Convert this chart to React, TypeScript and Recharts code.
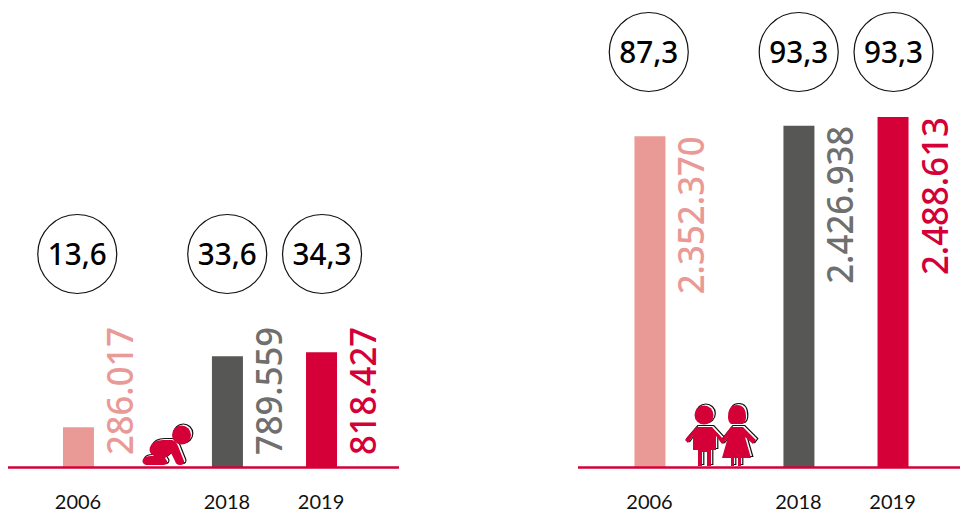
import React from "react";
import { BarChart, Bar, XAxis, YAxis, Cell, LabelList } from "recharts";

const years = ["2006", "2018", "2019"];
const yearSlots = [0, 19, 31];
const babyValues = [286017, 789559, 818427];
const babyShares = ["13,6", "33,6", "34,3"];
const childValues = [2352370, 2426938, 2488613];
const childShares = ["87,3", "93,3", "93,3"];
const barColors = ["#ea9a96", "#575756", "#d40037"];
const labelColors = ["#ea9a96", "#6f6f6e", "#d40037"];
const circleNudge = [-1.2, -0.2, 0.5];
const formatValue = (v: number) => String(v).replace(/\B(?=(\d{3})+$)/g, ".");
const FONT = "'Noto Sans', sans-serif";
const RED = "#d40037";

type PanelProps = {
  left: number; width: number; marginLeft: number; domain: [number, number];
  values: number[]; shares: string[]; circleY: number; labelFromTop: boolean; labelLen: number;
};

function Panel({ left, width, marginLeft, domain, values, shares, circleY, labelFromTop, labelLen }: PanelProps) {
  const data = years.map((year, i) => ({ year, slot: yearSlots[i], value: values[i], share: shares[i] }));
  return (
    <div style={{ position: "absolute", left, top: 0 }}>
      <BarChart width={width} height={514} data={data} margin={{ top: 0, right: 0, bottom: 0, left: marginLeft }} barSize={31}>
        <XAxis
          dataKey="slot" type="number" domain={domain} ticks={yearSlots} interval={0} allowDataOverflow
          tickFormatter={(s: number) => years[yearSlots.indexOf(s)]}
          axisLine={{ stroke: RED, strokeWidth: 2.5 }} tickLine={false} height={46.5} tickMargin={21}
          tick={{ fontFamily: "Lato, sans-serif", fontSize: 20, fill: "#111" }}
        />
        <YAxis hide width={0} domain={[0, 3320000]} />
        <Bar dataKey="value" isAnimationActive={false}>
          {data.map((d, i) => <Cell key={d.year} fill={barColors[i]} />)}
          <LabelList dataKey="value" content={(p: any) => {
            const tx = p.x + p.width + 39;
            const ty = labelFromTop ? p.y + labelLen : 455;
            return (
              <text transform={`translate(${tx},${ty}) rotate(-90)`} fill={labelColors[p.index]}
                fontFamily={FONT} fontWeight={500} fontSize={37} textLength={labelLen} lengthAdjust="spacingAndGlyphs">
                {formatValue(p.value)}
              </text>
            );
          }} />
          <LabelList dataKey="share" content={(p: any) => {
            const cx = p.x + p.width / 2 + circleNudge[p.index];
            return (
              <g>
                <circle cx={cx} cy={circleY} r={39.5} fill="#fff" stroke="#111" strokeWidth={1.2} />
                <text x={cx} y={circleY + 11} textAnchor="middle" fontFamily={FONT} fontWeight={500} fontSize={31} textLength={59} lengthAdjust="spacingAndGlyphs" fill="#000">{p.value}</text>
              </g>
            );
          }} />
        </Bar>
      </BarChart>
    </div>
  );
}

const babyPaths = (
  <>
    <circle cx="181.5" cy="435" r="9.5" />
    <path d="M150 447 Q153 440 163 440 L172 440 Q176 441 178 446 L184 461 Q185 465 180 465 Q176 465 175 461 L171 453 L165 458 L167 461 Q168 465 163 465 L146 465 Q141 463 143 459 Q145 456 151 456 L154 456 Q148 453 150 447 Z" />
  </>
);

const kidsPaths = (
  <>
    <circle cx="704" cy="415" r="9.5" />
    <path d="M696 427 L712 427 L724 440 L722 444 L716 436 L716 450 L711 450 L711 466 L707 466 L707 452 L702 452 L702 466 L698 466 L698 450 L693 450 L693 436 L688 443 L685 440 Z" />
    <path d="M728 417 Q728 405 737 405 Q746 405 746 417 Q746 422 743 424 L731 424 Q728 422 728 417 Z" />
    <path d="M731 427 L743 427 L756 440 L753 444 L745 437 L751 458 L741 458 L741 466 L738 466 L738 458 L734 458 L734 466 L731 466 L731 458 L722 458 L728 437 L723 444 L720 441 Z" />
  </>
);

function Icon({ children }: { children: React.ReactNode }) {
  return (
    <>
      <g transform="translate(1.8,-1.5)" fill="#fff" stroke="#111" strokeWidth={1.2}>{children}</g>
      <g fill={RED}>{children}</g>
    </>
  );
}

export default function App() {
  return (
    <div style={{ position: "absolute", left: 0, top: 0, width: 960, height: 514, overflow: "hidden", background: "#fff" }}>
      <Panel left={0} width={399} marginLeft={8} domain={[-8.93, 40.94]} values={babyValues} shares={babyShares}
        circleY={254} labelFromTop={false} labelLen={128} />
      <Panel left={570} width={390} marginLeft={8} domain={[-9.12, 39.6]} values={childValues} shares={childShares}
        circleY={52} labelFromTop labelLen={158} />
      <svg width={960} height={514} style={{ position: "absolute", left: 0, top: 0, pointerEvents: "none" }}>
        <Icon>{babyPaths}</Icon>
        <Icon>{kidsPaths}</Icon>
      </svg>
    </div>
  );
}
